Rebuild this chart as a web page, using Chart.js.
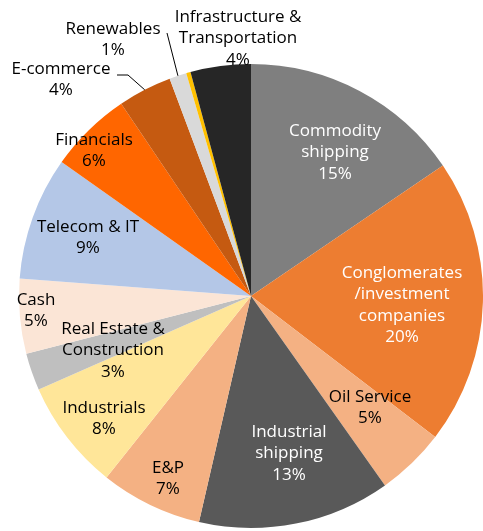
<!DOCTYPE html>
<html>
<head>
<meta charset="utf-8">
<script src="https://cdn.jsdelivr.net/npm/chart.js@4/dist/chart.umd.min.js"></script>
<style>
  html, body { margin: 0; padding: 0; background: #ffffff; }
  #wrap { width: 483px; height: 531px; position: relative; }
</style>
</head>
<body>
<div id="wrap"><canvas id="c" width="483" height="531"></canvas></div>
<script>
// ---- data ----
const categories = [
  'Commodity\nshipping',
  'Conglomerates\n/investment\ncompanies',
  'Oil Service',
  'Industrial\nshipping',
  'E&P',
  'Industrials',
  'Real Estate &\nConstruction',
  'Cash',
  'Telecom & IT',
  'Financials',
  'E-commerce',
  'Renewables',
  '',
  'Infrastructure &\nTransportation'
];
const shares = [15.5, 19.9, 4.8, 13.4, 7.1, 7.7, 2.6, 5.2, 8.6, 5.75, 3.75, 1.2, 0.3, 4.2];
const pctLabels = ['15%', '20%', '5%', '13%', '7%', '8%', '3%', '5%', '9%', '6%', '4%', '1%', '', '4%'];

// ---- styles ----
const sliceColors = ['#7f7f7f', '#ed7d31', '#f4b183', '#595959', '#f4b183', '#ffe699', '#bfbfbf',
                     '#fbe5d6', '#b4c7e7', '#ff6600', '#c55a11', '#d9d9d9', '#ffc000', '#262626'];
const textColors = ['#ffffff', '#ffffff', '#000000', '#ffffff', '#000000', '#000000', '#000000',
                    '#000000', '#000000', '#000000', '#000000', '#000000', '#000000', '#000000'];
// label block anchors relative to pie centre, in units of the pie radius (first-line centre)
const labelLayout = [
  [84, -165], [151, -23], [119, 101], [38, 136], [-83, 172], [-147, 112], [-138, 33],
  [-215, 4], [-163, -69], [-157, -156], [-190, -227], [-138, -267], null, [-13, -279]
].map(p => p ? [p[0] / 232, p[1] / 232] : null);
// leader lines: start point (relative to centre, radius units) and optional elbow
const leaders = {
  10: { start: [-134 / 232, -221 / 232], elbow: [-123 / 232, -221 / 232] },
  11: { start: [-84 / 232, -263 / 232] }
};

const labelPlugin = {
  id: 'sliceLabels',
  afterDatasetsDraw(chart) {
    const ctx = chart.ctx;
    const meta = chart.getDatasetMeta(0);
    ctx.save();
    ctx.font = '17px "Open Sans"';
    ctx.textAlign = 'center';
    ctx.textBaseline = 'middle';
    const lineH = 21.5;
    meta.data.forEach((arc, i) => {
      const lay = labelLayout[i];
      if (!lay) return;
      const r = arc.outerRadius;
      const cx = arc.x, cy = arc.y;
      const lines = categories[i].split('\n').concat(pctLabels[i] ? [pctLabels[i]] : []);
      const x = cx + lay[0] * r;
      const y0 = cy + lay[1] * r;
      ctx.fillStyle = textColors[i];
      lines.forEach((t, k) => ctx.fillText(t, x, y0 + k * lineH));
      const ld = leaders[i];
      if (ld) {
        const mid = (arc.startAngle + arc.endAngle) / 2;
        const ex = cx + Math.cos(mid) * r;
        const ey = cy + Math.sin(mid) * r;
        ctx.beginPath();
        ctx.strokeStyle = '#000000';
        ctx.lineWidth = 1;
        ctx.moveTo(cx + ld.start[0] * r, cy + ld.start[1] * r);
        if (ld.elbow) ctx.lineTo(cx + ld.elbow[0] * r, cy + ld.elbow[1] * r);
        ctx.lineTo(ex, ey);
        ctx.stroke();
      }
    });
    ctx.restore();
  }
};

new Chart(document.getElementById('c'), {
  type: 'pie',
  data: {
    labels: categories,
    datasets: [{
      data: shares,
      backgroundColor: sliceColors,
      borderWidth: 0
    }]
  },
  options: {
    responsive: false,
    animation: false,
    layout: { padding: { left: 19, right: 0, top: 64, bottom: 3 } },
    plugins: {
      legend: { display: false },
      tooltip: { enabled: false }
    }
  },
  plugins: [labelPlugin]
});
</script>
</body>
</html>
